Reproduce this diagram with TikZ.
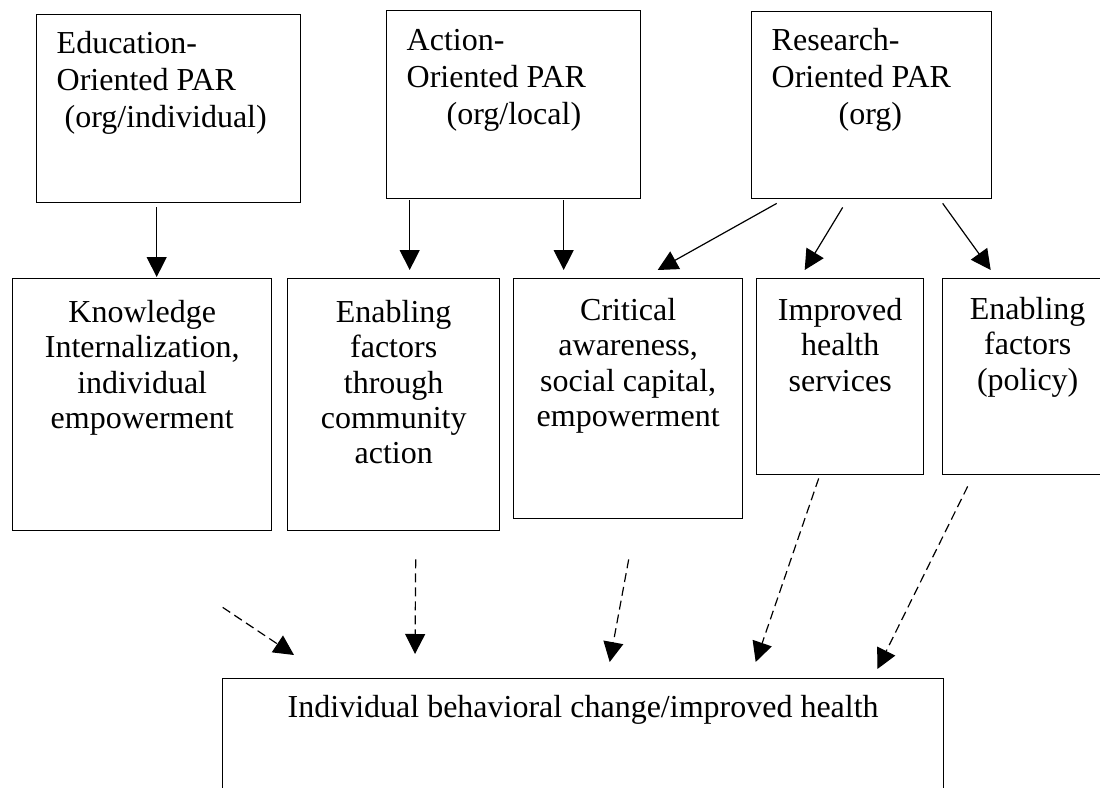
\documentclass[tikz,border=0pt]{standalone}
\usepackage{fontspec}
\setmainfont{Liberation Serif}
\usetikzlibrary{arrows.meta}

% text of a box: width, height, height of first line, lines
\newcommand{\toptext}[4]{\parbox[t][#2][t]{#1}{\fontsize{16}{18.5}\selectfont\raggedright\leftskip=10pt\rule{0pt}{#3}#4}}
\newcommand{\midtext}[4]{\parbox[t][#2][t]{#1}{\centering\rule{0pt}{#3}#4}}

\begin{document}
\begin{tikzpicture}[x=0.5pt, y=-0.5pt,
		box/.style={draw, line width=0.7pt, inner sep=0pt, anchor=north west, font=\fontsize{16}{17.6}\selectfont},
		arr/.style={-{Triangle[length=10pt, width=10pt]}, line width=0.6pt},
		dasharr/.style={arr, dash pattern=on 4.5pt off 2.5pt}]
		\useasboundingbox (0,0) rectangle (1100,788);
		\clip (0,0) rectangle (1100,788);

		% kinds of PAR
		\node[box] (edu) at (36,14) {\toptext{132pt}{94pt}{19.5pt}{Education-\\Oriented PAR\\\hspace*{4pt}(org/individual)}};
		\node[box] (act) at (386,10) {\toptext{127pt}{94pt}{20pt}{Action-\\Oriented PAR\\\hspace*{20pt}(org/local)}};
		\node[box] (res) at (751,11) {\toptext{120pt}{93.5pt}{19.5pt}{Research-\\Oriented PAR\\\hspace*{33.5pt}(org)}};

		% outcomes
		\node[box] (know) at (12,278) {\midtext{129.5pt}{126pt}{22pt}{Knowledge\\Internalization,\\individual\\empowerment}};
		\node[box] (enab) at (287,278) {\midtext{106pt}{126pt}{22pt}{Enabling\\factors\\through\\community\\action}};
		\node[box] (crit) at (513,278) {\midtext{114.5pt}{120pt}{21pt}{Critical\\awareness,\\social capital,\\empowerment}};
		\node[box] (impr) at (756,278) {\midtext{83.5pt}{98pt}{21pt}{Improved\\health\\services}};
		\node[box] (pol) at (942,278) {\midtext{85pt}{98pt}{20.5pt}{Enabling\\factors\\(policy)}};

		\node[box] (out) at (222,678) {\midtext{360.5pt}{65pt}{19.5pt}{Individual behavioral change/improved health}};

		\draw[arr] ([xshift=-6pt, yshift=-2pt]edu.south) -- ([xshift=7.25pt, yshift=0.5pt]know.north);
		\draw[arr] ([xshift=-52pt, yshift=-0.5pt]act.south) -- ([xshift=8pt, yshift=4pt]enab.north);
		\draw[arr] ([xshift=25pt, yshift=-0.5pt]act.south) -- ([xshift=-32.25pt, yshift=4pt]crit.north);
		\draw[arr] ([xshift=-47.5pt, yshift=-2pt]res.south) -- ([xshift=14.75pt, yshift=4pt]crit.north);
		\draw[arr] ([xshift=-14.5pt, yshift=-4pt]res.south) -- ([xshift=-17.75pt, yshift=4pt]impr.north);
		\draw[arr] ([xshift=35.5pt, yshift=-2pt]res.south) -- ([xshift=-18.5pt, yshift=4pt]pol.north);

		\draw[dasharr] ([xshift=40.25pt, yshift=-38pt]know.south) -- ([xshift=36pt, yshift=11.5pt]out.north west);
		\draw[dasharr] ([xshift=11pt, yshift=-14pt]enab.south) -- ([xshift=96.5pt, yshift=12pt]out.north west);
		\draw[dasharr] ([xshift=0.25pt, yshift=-20pt]crit.south) -- ([xshift=13.25pt, yshift=8pt]out.north);
		\draw[dasharr] ([xshift=-10.75pt, yshift=-1.5pt]impr.south) -- ([xshift=86.25pt, yshift=8pt]out.north);
		\draw[dasharr] ([xshift=-30pt, yshift=-5.5pt]pol.south) -- ([xshift=-33.5pt, yshift=4.5pt]out.north east);
\end{tikzpicture}
\end{document}
